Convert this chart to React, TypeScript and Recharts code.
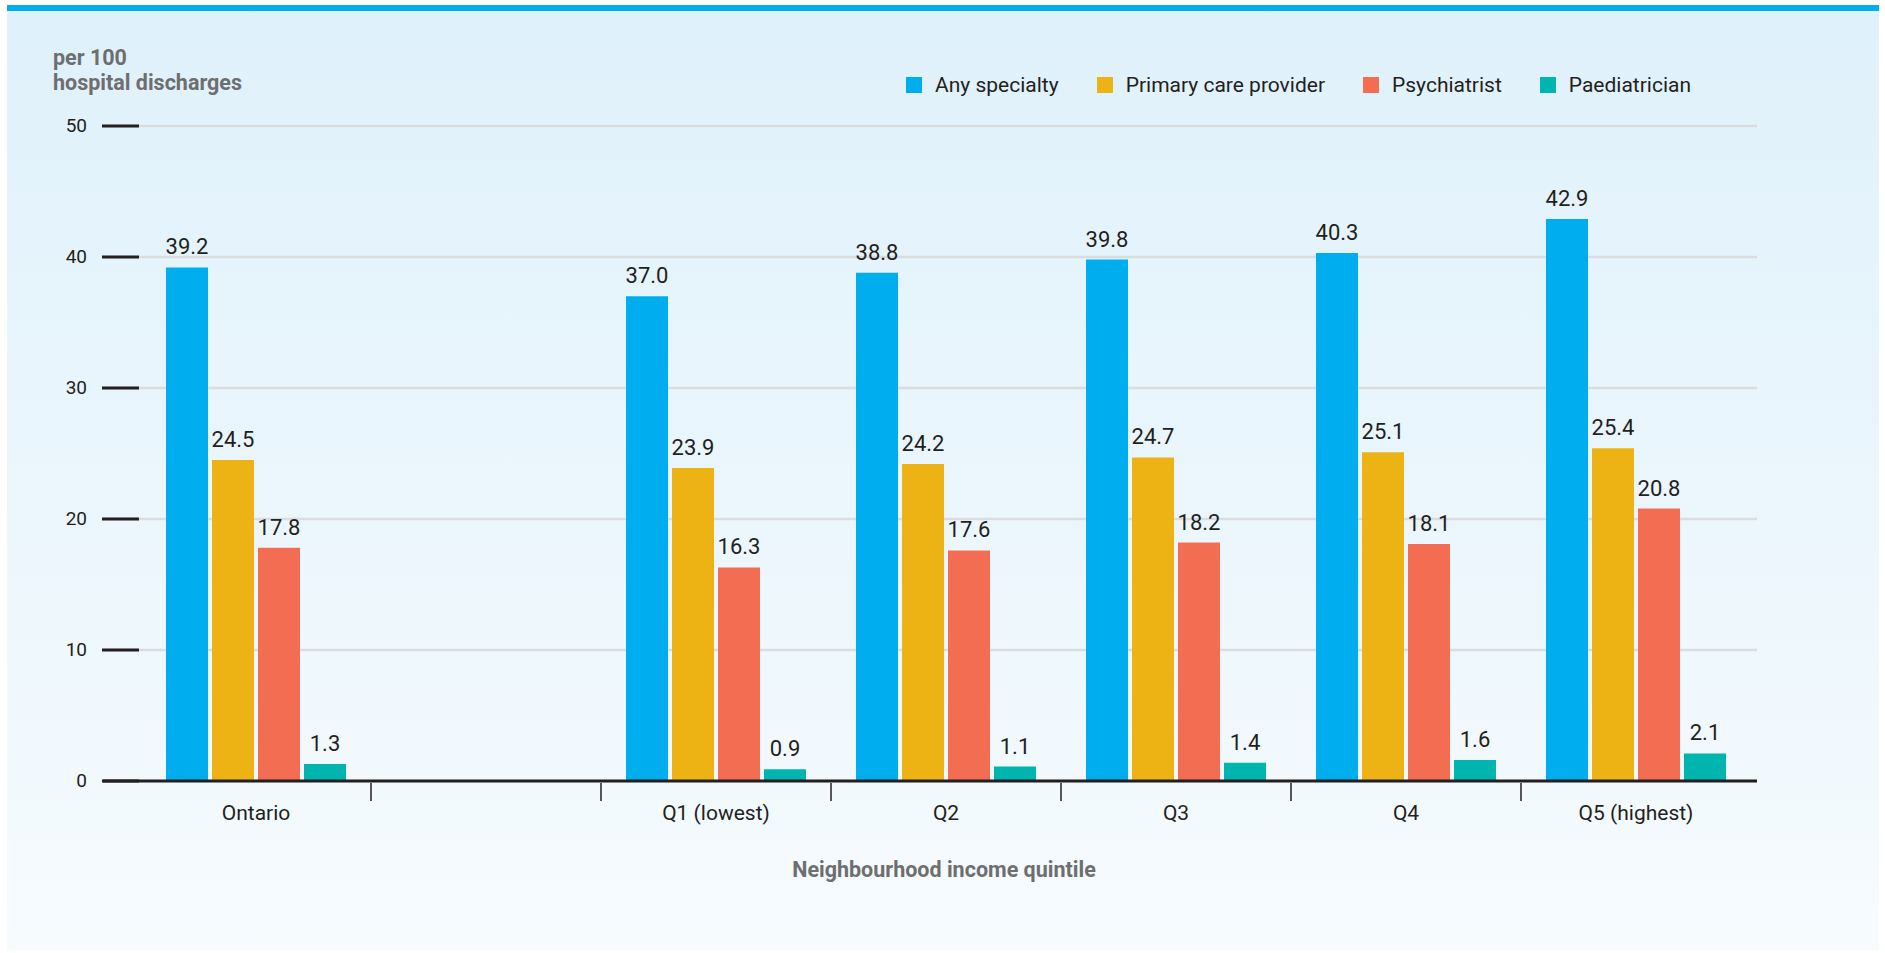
import React from 'react';
import { BarChart, Bar, XAxis, YAxis, CartesianGrid, Legend, LabelList, Label } from 'recharts';

// values
const categories = ['Ontario', ' ', 'Q1 (lowest)', 'Q2', 'Q3', 'Q4', 'Q5 (highest)'];
const anySpecialty = [39.2, null, 37.0, 38.8, 39.8, 40.3, 42.9];
const primaryCare = [24.5, null, 23.9, 24.2, 24.7, 25.1, 25.4];
const psychiatrist = [17.8, null, 16.3, 17.6, 18.2, 18.1, 20.8];
const paediatrician = [1.3, null, 0.9, 1.1, 1.4, 1.6, 2.1];
const yTicks = [0, 10, 20, 30, 40, 50];

const SERIES = [
  { key: 'any', name: 'Any specialty', color: '#00aeef' },
  { key: 'primary', name: 'Primary care provider', color: '#edb213' },
  { key: 'psych', name: 'Psychiatrist', color: '#f36d53' },
  { key: 'paed', name: 'Paediatrician', color: '#00b5af' },
];

const data = categories.map((name, i) => ({
  name,
  any: anySpecialty[i],
  primary: primaryCare[i],
  psych: psychiatrist[i],
  paed: paediatrician[i],
}));

const FONT = 'Roboto, sans-serif';
const INK = '#231f20';
const GREY = '#6d6e70';

const W = 1872;
const H = 945;
const MARGIN = { top: 121, right: 122, bottom: 109, left: 16 };
const Y_AXIS_W = 80;
const PAD = { left: 38, right: 6 };
const plotW = W - MARGIN.left - MARGIN.right - Y_AXIS_W;
const halfSlot = (plotW - PAD.left - PAD.right) / categories.length / 2;

const fmt = (v: any) => (v == null ? '' : Number(v).toFixed(1));

const YTick = (props: any) => {
  const { x, y, payload } = props;
  return (
    <g>
      <line x1={x - 1} x2={x + 36} y1={y} y2={y} stroke={INK} strokeWidth={3} />
      <text x={x - 16} y={y + 6} textAnchor="end" fontSize={19} fontFamily={FONT} fill={INK}>
        {payload.value}
      </text>
    </g>
  );
};

const XTick = (props: any) => {
  const { x, y, payload, index } = props;
  const last = index === categories.length - 1;
  return (
    <g>
      <text x={x} y={y + 39} textAnchor="middle" fontSize={21} fontFamily={FONT} fill={INK}>
        {String(payload.value).trim()}
      </text>
      {!last && (
        <line x1={x + halfSlot} x2={x + halfSlot} y1={y + 2} y2={y + 20} stroke={INK} strokeWidth={1.5} />
      )}
    </g>
  );
};

const LegendContent = (props: any) => {
  const order = SERIES.map((s) => s.name);
  const items = [...(props.payload || [])].sort(
    (a: any, b: any) => order.indexOf(a.value) - order.indexOf(b.value)
  );
  return (
    <div style={{ display: 'flex', alignItems: 'center', fontFamily: FONT, fontSize: 21, color: INK }}>
      {items.map((it: any, i: number) => (
        <div key={i} style={{ display: 'flex', alignItems: 'center', marginRight: 38, lineHeight: '24px' }}>
          <span style={{ width: 16, height: 16, background: it.color, marginRight: 13, display: 'inline-block' }} />
          <span>{it.value}</span>
        </div>
      ))}
    </div>
  );
};

export default function App() {
  return (
    <div
      style={{
        position: 'absolute',
        left: 7,
        top: 5,
        width: W,
        height: H,
        background: 'linear-gradient(180deg, #dff1fb 0%, #f6fbfe 100%)',
        overflow: 'hidden',
      }}
    >
      <div style={{ position: 'absolute', left: 0, top: 0, width: W, height: 6, background: '#00aeef' }} />
      <div
        style={{
          position: 'absolute',
          left: 46,
          top: 40,
          fontFamily: FONT,
          fontWeight: 700,
          fontSize: 21.5,
          lineHeight: '25px',
          color: GREY,
        }}
      >
        per 100
        <br />
        hospital discharges
      </div>
      <div style={{ position: 'absolute', left: 0, top: 0 }}>
        <BarChart width={W} height={H} data={data} margin={MARGIN} barSize={42} barGap={4}>
          <CartesianGrid vertical={false} stroke="#d9dde0" strokeWidth={2.5} />
          <YAxis
            width={Y_AXIS_W}
            domain={[0, 50]}
            ticks={yTicks}
            axisLine={false}
            tickLine={false}
            tickSize={0}
            tickMargin={0}
            tick={<YTick />}
            interval={0}
          />
          <XAxis
            dataKey="name"
            height={60}
            padding={PAD}
            axisLine={{ stroke: INK, strokeWidth: 3 }}
            tickLine={false}
            tickSize={0}
            tickMargin={0}
            tick={<XTick />}
            interval={0}
          >
            <Label
              value="Neighbourhood income quintile"
              position="bottom"
              offset={21}
              dx={14}
              fontSize={21.5}
              fontWeight={700}
              fontFamily={FONT}
              fill={GREY}
            />
          </XAxis>
          <Legend
            verticalAlign="middle"
            align="center"
            content={<LegendContent />}
            wrapperStyle={{ top: 68, left: 899, width: 'auto', height: 'auto' }}
          />
          {SERIES.map((s) => (
            <Bar key={s.key} dataKey={s.key} name={s.name} fill={s.color} isAnimationActive={false}>
              <LabelList
                dataKey={s.key}
                position="top"
                offset={13}
                formatter={fmt}
                fontSize={22}
                fontFamily={FONT}
                fill={INK}
              />
            </Bar>
          ))}
        </BarChart>
      </div>
    </div>
  );
}
